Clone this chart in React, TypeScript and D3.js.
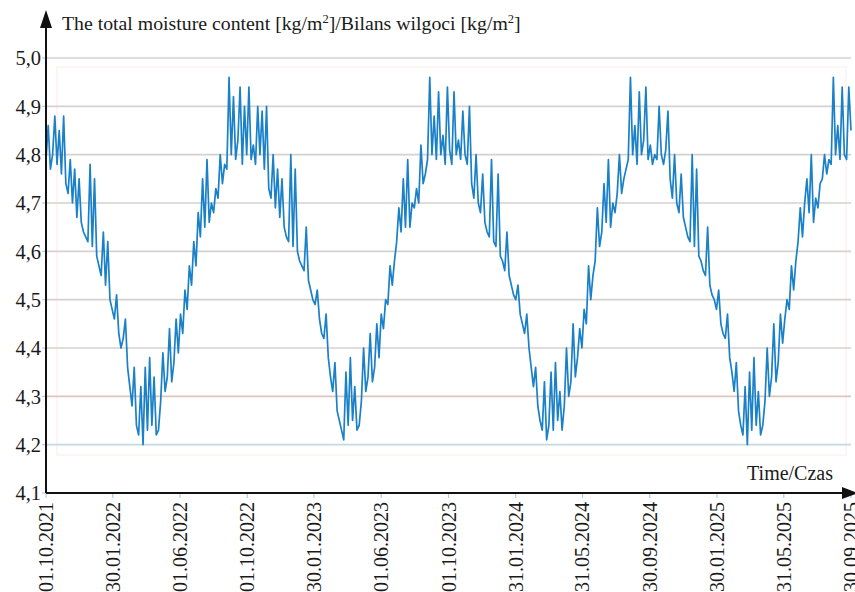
import React from "react";
import * as d3 from "d3";

// moisture balance, one value every 4 days from 01.10.2021
const season2122 = [
  4.79, 4.86, 4.77, 4.8, 4.88, 4.78, 4.85, 4.76, 4.88, 4.74,
  4.72, 4.79, 4.7, 4.77, 4.67, 4.75, 4.66, 4.64, 4.63, 4.62,
  4.78, 4.61, 4.75, 4.59, 4.57, 4.55, 4.64, 4.53, 4.62, 4.5,
  4.48, 4.46, 4.51, 4.43, 4.4, 4.42, 4.46, 4.36, 4.32, 4.28,
  4.36, 4.24, 4.22, 4.32, 4.2, 4.36, 4.23, 4.38, 4.24, 4.34,
  4.22, 4.23, 4.29, 4.39, 4.31, 4.34, 4.44, 4.33, 4.37, 4.46,
  4.39, 4.47, 4.43, 4.52, 4.48, 4.57, 4.53, 4.62, 4.57, 4.68,
  4.63, 4.75, 4.65, 4.79, 4.66, 4.7, 4.68, 4.73, 4.71, 4.8,
  4.74, 4.78, 4.77, 4.96, 4.8, 4.92, 4.79, 4.83, 4.94, 4.78,
  4.9,
];
const season2223 = [
  4.8, 4.94, 4.79, 4.82, 4.78, 4.9, 4.8, 4.89, 4.77, 4.9,
  4.73, 4.71, 4.8, 4.69, 4.77, 4.67, 4.75, 4.65, 4.63, 4.62,
  4.8, 4.61, 4.77, 4.6, 4.58, 4.57, 4.56, 4.65, 4.54, 4.52,
  4.5, 4.49, 4.52, 4.46, 4.43, 4.42, 4.47, 4.38, 4.34, 4.31,
  4.37, 4.27, 4.25, 4.23, 4.21, 4.35, 4.24, 4.38, 4.25, 4.32,
  4.23, 4.24, 4.29, 4.4, 4.31, 4.34, 4.43, 4.33, 4.36, 4.45,
  4.38, 4.47, 4.44, 4.5, 4.49, 4.57, 4.53, 4.58, 4.62, 4.69,
  4.64, 4.75, 4.65, 4.79, 4.65, 4.7, 4.69, 4.73, 4.7, 4.82,
  4.74, 4.76, 4.79, 4.96, 4.8, 4.88, 4.79, 4.93, 4.8, 4.84,
  4.78, 4.94,
];
const season2324 = [
  4.81, 4.78, 4.93, 4.8, 4.83, 4.79, 4.89, 4.8, 4.78, 4.9,
  4.74, 4.71, 4.8, 4.7, 4.68, 4.76, 4.66, 4.64, 4.63, 4.79,
  4.62, 4.61, 4.76, 4.59, 4.58, 4.56, 4.64, 4.55, 4.53, 4.51,
  4.5, 4.53, 4.47, 4.45, 4.43, 4.47, 4.4, 4.36, 4.32, 4.36,
  4.28, 4.25, 4.23, 4.33, 4.21, 4.24, 4.35, 4.23, 4.37, 4.25,
  4.31, 4.23, 4.28, 4.4, 4.3, 4.33, 4.45, 4.34, 4.38, 4.44,
  4.4, 4.48, 4.45, 4.57, 4.5, 4.55, 4.58, 4.69, 4.61, 4.64,
  4.74, 4.66, 4.79, 4.65, 4.7, 4.68, 4.72, 4.8, 4.72, 4.75,
  4.77, 4.79, 4.96, 4.8, 4.86, 4.78, 4.93, 4.8, 4.83, 4.94,
  4.79,
];
const season2425 = [
  4.82, 4.78, 4.8, 4.79, 4.9, 4.8, 4.78, 4.81, 4.89, 4.75,
  4.71, 4.8, 4.7, 4.68, 4.76, 4.67, 4.65, 4.63, 4.62, 4.8,
  4.61, 4.77, 4.59, 4.58, 4.56, 4.55, 4.65, 4.53, 4.51, 4.5,
  4.48, 4.52, 4.45, 4.43, 4.42, 4.47, 4.38, 4.35, 4.31, 4.37,
  4.27, 4.24, 4.22, 4.32, 4.2, 4.35, 4.23, 4.38, 4.24, 4.31,
  4.22, 4.24, 4.29, 4.4, 4.3, 4.34, 4.45, 4.33, 4.37, 4.47,
  4.41, 4.46, 4.5, 4.48, 4.57, 4.52, 4.58, 4.62, 4.69, 4.63,
  4.7, 4.75, 4.68, 4.8, 4.66, 4.71, 4.69, 4.74, 4.75, 4.8,
  4.76, 4.79, 4.78, 4.96, 4.8, 4.86, 4.79, 4.94, 4.8, 4.79,
  4.94, 4.85,
];

const tickDates = [
  "2021-10-01", "2022-01-30", "2022-06-01", "2022-10-01", "2023-01-30",
  "2023-06-01", "2023-10-01", "2024-01-31", "2024-05-31", "2024-09-30",
  "2025-01-30", "2025-05-31", "2025-09-30",
];
const yTicks = [4.1, 4.2, 4.3, 4.4, 4.5, 4.6, 4.7, 4.8, 4.9, 5.0];

const W = 855;
const H = 592;
const left = 46;
const right = 851;
const top = 58;
const bottom = 493;
const font = "'Liberation Serif', 'Times New Roman', serif";

const gridColor = (v: number) => {
  if (Math.abs(v - 4.2) < 0.01) return "#c3d9e4";
  if (Math.abs(v - 4.3) < 0.01) return "#dfc6bc";
  return "#d6d1cf";
};

const App = () => {
  const startDate = new Date(2021, 9, 1);
  const values = [...season2122, ...season2223, ...season2324, ...season2425];
  const data = values.map((v, i) => ({ date: d3.timeDay.offset(startDate, i * 4), value: v }));

  const xScale = d3
    .scaleTime()
    .domain([startDate, new Date(2025, 8, 30)])
    .range([left, right]);
  const yScale = d3.scaleLinear().domain([4.1, 5.0]).range([bottom, top]);

  const lineGen = d3
    .line<{ date: Date; value: number }>()
    .x((d) => xScale(d.date))
    .y((d) => yScale(d.value));

  const parse = d3.timeParse("%Y-%m-%d");
  const fmt = d3.timeFormat("%d.%m.%Y");

  return (
    <svg width={W} height={H} style={{ position: "absolute", left: 0, top: 0, background: "#fff" }}>
      {/* faint plot frame */}
      <rect x={57} y={67} width={789} height={388} fill="none" stroke="#fbecea" strokeWidth={1} />

      {yTicks.slice(1).map((v) => (
        <line key={v} x1={left} x2={right} y1={yScale(v)} y2={yScale(v)} stroke={gridColor(v)} strokeWidth={1.6} />
      ))}
      {yTicks.map((v) => (
        <g key={"t" + v}>
          <line x1={left - 4} x2={left} y1={yScale(v)} y2={yScale(v)} stroke="#c9c9c9" strokeWidth={1.2} />
          <text x={41} y={yScale(v)} dy="0.36em" textAnchor="end" fontFamily={font} fontSize={20.5} fill="#1a1a1a">
            {d3.format(".1f")(v).replace(".", ",")}
          </text>
        </g>
      ))}

      <path d={lineGen(data) || ""} fill="none" stroke="#1a80c8" strokeWidth={1.7} strokeLinejoin="round" />

      {tickDates.map((s) => {
        const d = parse(s) as Date;
        const x = xScale(d);
        return (
          <g key={s}>
            <line x1={x} x2={x} y1={bottom} y2={bottom + 5} stroke="#a9cfe6" strokeWidth={1.2} />
            <text
              transform={`translate(${x},${bottom + 9}) rotate(-90)`}
              dy="0.35em"
              textAnchor="end"
              fontFamily={font}
              fontSize={20}
              fill="#1a1a1a"
            >
              {fmt(d)}
            </text>
          </g>
        );
      })}

      {/* axes with arrows */}
      <line x1={left} x2={left} y1={bottom} y2={24} stroke="#111" strokeWidth={2} />
      <path d={`M${left},10 L${left - 6},28 L${left + 6},28 Z`} fill="#111" />
      <line x1={left} x2={846} y1={bottom} y2={bottom} stroke="#111" strokeWidth={2} />
      <path d={`M858,${bottom} L842,${bottom - 6} L842,${bottom + 6} Z`} fill="#111" />

      <text x={62} y={30} fontFamily={font} fontSize={19.8} fill="#1a1a1a">
        The total moisture content [kg/m<tspan dy={-7} fontSize={12.5}>2</tspan>
        <tspan dy={7}>]/Bilans wilgoci [kg/m</tspan>
        <tspan dy={-7} fontSize={12.5}>2</tspan>
        <tspan dy={7}>]</tspan>
      </text>
      <text x={833} y={480} textAnchor="end" fontFamily={font} fontSize={20} fill="#1a1a1a">
        Time/Czas
      </text>
    </svg>
  );
};

export default App;
